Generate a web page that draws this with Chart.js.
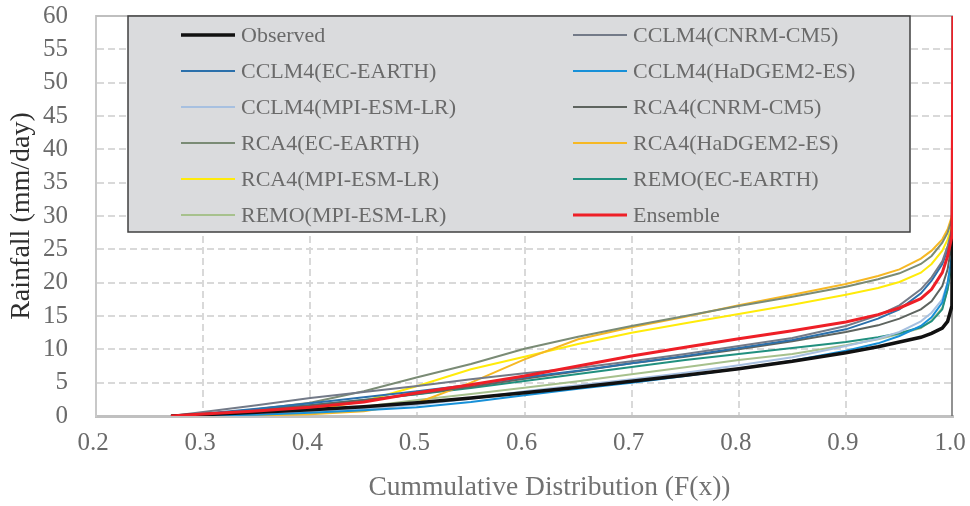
<!DOCTYPE html>
<html><head><meta charset="utf-8">
<script src="https://cdn.jsdelivr.net/npm/chart.js@4.4.1/dist/chart.umd.min.js"></script>
<style>html,body{margin:0;padding:0;background:#fff;}#wrap{width:970px;height:506px;}</style>
</head><body><div id="wrap"><canvas id="c" width="970" height="506"></canvas></div>
<script>
// Cumulative probability F(x)
const cdf = [0.27, 0.30, 0.35, 0.40, 0.45, 0.50, 0.55, 0.60, 0.65, 0.70, 0.75, 0.80, 0.85, 0.90, 0.93, 0.95, 0.97, 0.98, 0.99, 0.995, 0.999, 1.0];

const observed      = [0, 0.2, 0.55, 0.95, 1.4, 2.0, 2.7, 3.5, 4.3, 5.2, 6.1, 7.1, 8.2, 9.5, 10.4, 11.1, 11.8, 12.4, 13.2, 14.2, 16.5, 41];
const cclm4Cnrm     = [0, 0.6, 1.6, 2.7, 3.6, 4.5, 5.5, 6.4, 7.2, 8.2, 9.3, 10.5, 11.7, 13.5, 15.1, 16.6, 19.0, 20.8, 23.2, 25.5, 28, 33];
const cclm4Ec       = [0, 0.35, 1.1, 1.9, 2.8, 3.7, 4.7, 5.8, 6.8, 7.9, 9.0, 10.2, 11.4, 13.0, 14.6, 16.0, 18.4, 20.3, 22.8, 25, 27.5, 31];
const cclm4Hadgem   = [0, 0.05, 0.2, 0.5, 0.85, 1.3, 2.1, 3.1, 4.1, 5.0, 6.0, 7.1, 8.3, 9.8, 10.9, 12.0, 13.5, 14.8, 17, 20, 24, 28];
const cclm4Mpi      = [0, 0.1, 0.35, 0.7, 1.1, 1.7, 2.6, 3.7, 4.6, 5.5, 6.5, 7.6, 8.8, 10.5, 11.6, 12.6, 14.2, 15.5, 17.5, 20, 24, 28];
const rca4Cnrm      = [0, 0.3, 0.9, 1.6, 2.4, 3.3, 4.4, 5.6, 6.7, 7.9, 8.9, 10.0, 11.2, 12.6, 13.6, 14.6, 16.0, 17.2, 19.5, 22, 26, 30];
const rca4Ec        = [0, 0.2, 1.0, 2.0, 3.7, 5.8, 7.8, 10.1, 11.9, 13.5, 15.0, 16.5, 17.9, 19.4, 20.5, 21.4, 22.8, 24.0, 26.0, 27.5, 29.5, 33];
const rca4Hadgem    = [0, 0.05, 0.1, 0.25, 0.7, 2.0, 5.0, 8.5, 11.5, 13.3, 14.9, 16.6, 18.2, 19.8, 21.0, 22.0, 23.6, 24.8, 26.5, 28, 30, 36];
const rca4Mpi       = [0, 0.05, 0.3, 0.9, 2.2, 4.5, 7.0, 8.9, 10.8, 12.5, 13.9, 15.3, 16.7, 18.2, 19.2, 20.1, 21.5, 22.8, 24.8, 26.5, 28.5, 32];
const remoEc        = [0, 0.3, 0.9, 1.6, 2.4, 3.25, 4.2, 5.25, 6.3, 7.35, 8.4, 9.3, 10.2, 11.1, 11.8, 12.4, 13.3, 14.2, 16, 19, 23, 26];
const remoMpi       = [0, 0.15, 0.4, 0.8, 1.4, 2.4, 3.3, 4.25, 5.2, 6.25, 7.3, 8.4, 9.3, 10.6, 11.5, 12.3, 13.2, 14.3, 16.2, 19, 23, 27];
const ensemble      = [0, 0.3, 0.75, 1.3, 2.1, 3.5, 4.7, 6.0, 7.5, 9.0, 10.3, 11.6, 12.8, 14.1, 15.2, 16.2, 17.6, 19, 21.5, 24, 27, 60];

const seriesNames = ['Observed', 'CCLM4(CNRM-CM5)', 'CCLM4(EC-EARTH)', 'CCLM4(HaDGEM2-ES)', 'CCLM4(MPI-ESM-LR)', 'RCA4(CNRM-CM5)',
  'RCA4(EC-EARTH)', 'RCA4(HaDGEM2-ES)', 'RCA4(MPI-ESM-LR)', 'REMO(EC-EARTH)', 'REMO(MPI-ESM-LR)', 'Ensemble'];
const seriesValues = [observed, cclm4Cnrm, cclm4Ec, cclm4Hadgem, cclm4Mpi, rca4Cnrm, rca4Ec, rca4Hadgem, rca4Mpi, remoEc, remoMpi, ensemble];

const xTicks = [0.2, 0.3, 0.4, 0.5, 0.6, 0.7, 0.8, 0.9, 1.0];
const yTicks = [0, 5, 10, 15, 20, 25, 30, 35, 40, 45, 50, 55, 60];
const xTitle = 'Cummulative Distribution (F(x))';
const yTitle = 'Rainfall (mm/day)';

const colors = ['#111111', '#737a88', '#2b70ab', '#1790d8', '#a7c0e0', '#5e645f', '#7a8b75', '#f6b824', '#ffeb0a', '#21907f', '#a7c18d', '#ee1f27'];
const widths = [3.5, 2, 2, 2, 2, 2, 2, 2, 2, 2, 2, 3];
const orders = [1, 2, 2, 2, 2, 2, 2, 2, 2, 2, 2, 0];

const SERIF = "'Liberation Serif', 'Times New Roman', serif";

const datasets = seriesNames.map((name, i) => ({
  label: name,
  data: cdf.map((f, j) => ({x: f, y: seriesValues[i][j]})),
  borderColor: colors[i],
  backgroundColor: colors[i],
  borderWidth: widths[i],
  pointRadius: 0,
  tension: 0,
  fill: false,
  order: orders[i]
}));

const framePlugin = {
  id: 'frame',
  beforeDatasetsDraw(chart) {
    const {ctx, chartArea: ca} = chart;
    ctx.save();
    ctx.strokeStyle = '#bfbfbf'; ctx.lineWidth = 2;
    ctx.beginPath(); ctx.moveTo(ca.left, ca.top); ctx.lineTo(ca.right, ca.top); ctx.stroke();
    ctx.strokeStyle = '#6e6e6e'; ctx.lineWidth = 1.5;
    ctx.beginPath(); ctx.moveTo(ca.right - 1, ca.top); ctx.lineTo(ca.right - 1, ca.bottom); ctx.stroke();
    ctx.restore();
  },
  afterDraw(chart) {
    const {ctx, chartArea: ca} = chart;
    ctx.save();
    ctx.font = '27.5px ' + SERIF;
    ctx.fillStyle = '#717171';
    ctx.textAlign = 'center';
    ctx.textBaseline = 'middle';
    ctx.fillText(xTitle, (ca.left + ca.right) / 2 + 25, ca.bottom + 72);
    ctx.restore();
  }
};

const legendPlugin = {
  id: 'boxLegend',
  afterDraw(chart) {
    const {ctx, chartArea: ca} = chart;
    const bx = ca.left + 32, by = ca.top, bw = 782, bh = 216;
    ctx.save();
    ctx.fillStyle = '#dadbdd';
    ctx.fillRect(bx, by, bw, bh);
    ctx.strokeStyle = '#404040'; ctx.lineWidth = 1.5;
    ctx.strokeRect(bx, by, bw, bh);
    ctx.font = '22px ' + SERIF;
    ctx.textBaseline = 'middle';
    ctx.textAlign = 'left';
    chart.data.datasets.forEach((ds, i) => {
      const col = i % 2, row = Math.floor(i / 2);
      const y = by + 19 + row * 36;
      const lx = bx + (col === 0 ? 53 : 445);
      ctx.strokeStyle = ds.borderColor;
      ctx.lineWidth = ds.borderWidth;
      ctx.beginPath(); ctx.moveTo(lx, y); ctx.lineTo(lx + 54, y); ctx.stroke();
      ctx.fillStyle = '#6a6a6a';
      ctx.fillText(ds.label, lx + 60, y + 1);
    });
    ctx.restore();
  }
};

const zeroPad = s => { s.paddingTop = 0; s.paddingBottom = 0; s.paddingLeft = 0; s.paddingRight = 0; };

new Chart(document.getElementById('c'), {
  type: 'line',
  data: {datasets},
  plugins: [framePlugin, legendPlugin],
  options: {
    responsive: false,
    animation: false,
    layout: {padding: {top: 16, right: 17, left: 0, bottom: 0}},
    plugins: {legend: {display: false}, tooltip: {enabled: false}},
    scales: {
      x: {
        type: 'linear', min: 0.2, max: 1.0,
        afterBuildTicks: s => { s.ticks = xTicks.map(v => ({value: v})); },
        afterFit: s => { s.height = 90; zeroPad(s); },
        ticks: {callback: v => Number(v).toFixed(1), font: {family: SERIF, size: 25}, color: '#6a6a6a', padding: 12, labelOffset: -3, maxRotation: 0, autoSkip: false},
        grid: {color: c => (c.tick && (c.tick.value <= 0.2 || c.tick.value >= 1.0)) ? 'rgba(0,0,0,0)' : '#d9d9d9', lineWidth: 2, drawTicks: false},
        border: {display: true, color: '#c0c0c0', width: 3, dash: [7, 4]},
        title: {display: false, text: xTitle}
      },
      y: {
        type: 'linear', min: 0, max: 60,
        afterBuildTicks: s => { s.ticks = yTicks.map(v => ({value: v})); },
        afterFit: s => { s.width = 96; zeroPad(s); },
        ticks: {font: {family: SERIF, size: 25}, color: '#6a6a6a', padding: 28, autoSkip: false},
        grid: {color: c => (c.tick && (c.tick.value <= 0 || c.tick.value >= 60)) ? 'rgba(0,0,0,0)' : '#d9d9d9', lineWidth: 2, drawTicks: false},
        border: {display: true, color: '#c8c8c8', width: 2, dash: [7, 4]},
        title: {display: true, text: yTitle, font: {family: SERIF, size: 28}, color: '#2e2e2e', padding: {top: 5, bottom: 0}}
      }
    }
  }
});
</script></body></html>
